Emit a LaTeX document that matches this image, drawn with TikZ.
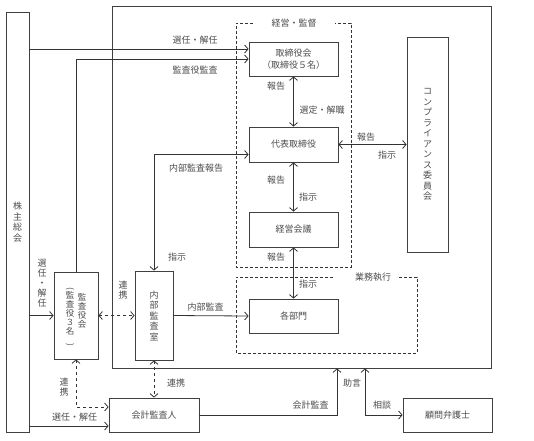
\documentclass[tikz,border=0pt]{standalone}
\usepackage{fontspec}
\setmainfont{Noto Sans CJK JP}
\usetikzlibrary{arrows.meta,positioning}
\tikzset{box/.style 2 args={draw=black!75, line width=0.8pt, minimum width=#1, minimum height=#2, inner sep=0pt, align=center},
lbl/.style={inner sep=0pt, align=center},
arr/.style={draw=black!80, line width=0.8pt, ->},
darr/.style={arr, dashed, <->},
%dashed frame of the groups
grp/.style={draw=black!80, line width=0.8pt, dash pattern=on 3pt off 2pt}}

\begin{document}
\begin{tikzpicture}[x=1pt, y=-1pt, >={Straight Barb[length=3.5pt,width=8pt]}, font=\fontsize{9}{10.5}\selectfont, text=black!70]

\useasboundingbox (0,0) rectangle (534,440);

\node[box={379pt}{362pt}] (company) at (301.5,187) {};

\draw[grp] (253,23) -| (236,267) -| (351,23) -- (335,23);
\node[lbl] (kantoku) at (294,23) {経営・監督};
\draw[grp] (333,277) -| (236,353) -| (417,277) -- (397,277);
\node[lbl] (shikko) at (373,277) {業務執行};

\node[box={23pt}{420pt}] (kabunushi) at (17.5,222) {株\\主\\総\\会};
\node[box={89pt}{34pt}] (torikai) at (293.5,59) {取締役会\\[1.5pt]（取締役５名）};
\node[box={89pt}{35pt}] (daihyo) at (293.5,144.5) {代表取締役};
\node[box={89pt}{35pt}] (keiei) at (293.5,229.5) {経営会議};
\node[box={89pt}{34pt}] (bumon) at (293.5,316) {各部門};
\node[box={41pt}{215pt}] (comp) at (427.5,144.5) {コ\\ン\\プ\\ラ\\イ\\ア\\ン\\ス\\委\\員\\会};

\node[box={44pt}{87pt}] (kansa) at (76,315.5) {};
\node[lbl, font=\fontsize{8.5}{9}\selectfont] (kansa1) at (82,311) {監\\査\\役\\会};
\node[lbl, font=\fontsize{8.5}{9}\selectfont] (kansa2) at (70,317) {\rotatebox{-90}{(}\\監\\査\\役\\３\\名\\\rotatebox{-90}{)}};
\node[box={38pt}{89pt}] (naibu) at (154,315.5) {内\\部\\監\\査\\室};
\node[box={90pt}{34pt}] (kaikei) at (154,415) {会計監査人};
\node[box={89pt}{34pt}] (bengo) at (447.5,415) {顧問弁護士};

\coordinate (s1) at ([yshift=10pt]torikai.west);
\coordinate (s3) at ([yshift=-10pt]daihyo.west);
\coordinate (s4) at ([yshift=8pt]kaikei.west);
\coordinate (s5) at ([yshift=-11pt]kaikei.west);
\coordinate (c1) at ([xshift=35.5pt]company.south);
\coordinate (c2) at ([xshift=63.5pt]company.south);

% shareholders
\draw[arr] (kabunushi.east |- s1) -- (s1);
\node[lbl] (l1) at (195,40) {選任・解任};
\draw[arr] (kabunushi.east |- kansa.west) -- (kansa.west);
\node[lbl, font=\fontsize{9}{10}\selectfont] (l2) at (42,283) {選\\任\\・\\解\\任};
\draw[arr] (kabunushi.east |- s5) -- (s5);
\node[lbl] (l3) at (74.5,417) {選任・解任};

% audit
\draw[arr] (kansa.north) |- (torikai.west);
\node[lbl] (l4) at (195,70) {監査役監査};
\draw[arr, <->] (naibu.north) |- (s3);
\node[lbl] (l5) at (196,168.5) {内部監査報告};
\node[lbl] (l6) at (177,257) {指示};
\draw[darr] (kansa.east) -- (naibu.west);
\node[lbl, font=\fontsize{9}{10}\selectfont] (l7) at (123,290) {連\\携};
\draw[arr] (naibu.east) -- (bumon.west);
\node[lbl] (l8) at (205.5,307) {内部監査};
\draw[darr] (kansa.south) |- (s4);
\node[lbl, font=\fontsize{9}{10}\selectfont] (l9) at (64,387) {連\\携};
\draw[darr] (naibu.south) -- (kaikei.north);
\node[lbl] (l10) at (176,383) {連携};
\draw[arr] (kaikei.east) -| (c1);
\node[lbl] (l11) at (310.5,405) {会計監査};
\draw[arr, <->] (c2) |- (bengo.west);
\node[lbl] (l12) at (352,383) {助言};
\node[lbl] (l13) at (382,405) {相談};

% management
\draw[arr, <->] (torikai.south) -- (daihyo.north);
\node[lbl] (l14) at (276,86) {報告};
\node[lbl] (l15) at (322,110) {選定・解職};
\draw[arr, <->] (daihyo.east) -- (daihyo.east -| comp.west);
\node[lbl] (l16) at (366,137) {報告};
\node[lbl] (l17) at (387,155) {指示};
\draw[arr, <->] (daihyo.south) -- (keiei.north);
\node[lbl] (l18) at (276,180) {報告};
\node[lbl] (l19) at (308,197) {指示};
\draw[arr, <->] (keiei.south) -- (bumon.north);
\node[lbl] (l20) at (276,257) {報告};
\node[lbl] (l21) at (308,284) {指示};

\end{tikzpicture}
\end{document}
